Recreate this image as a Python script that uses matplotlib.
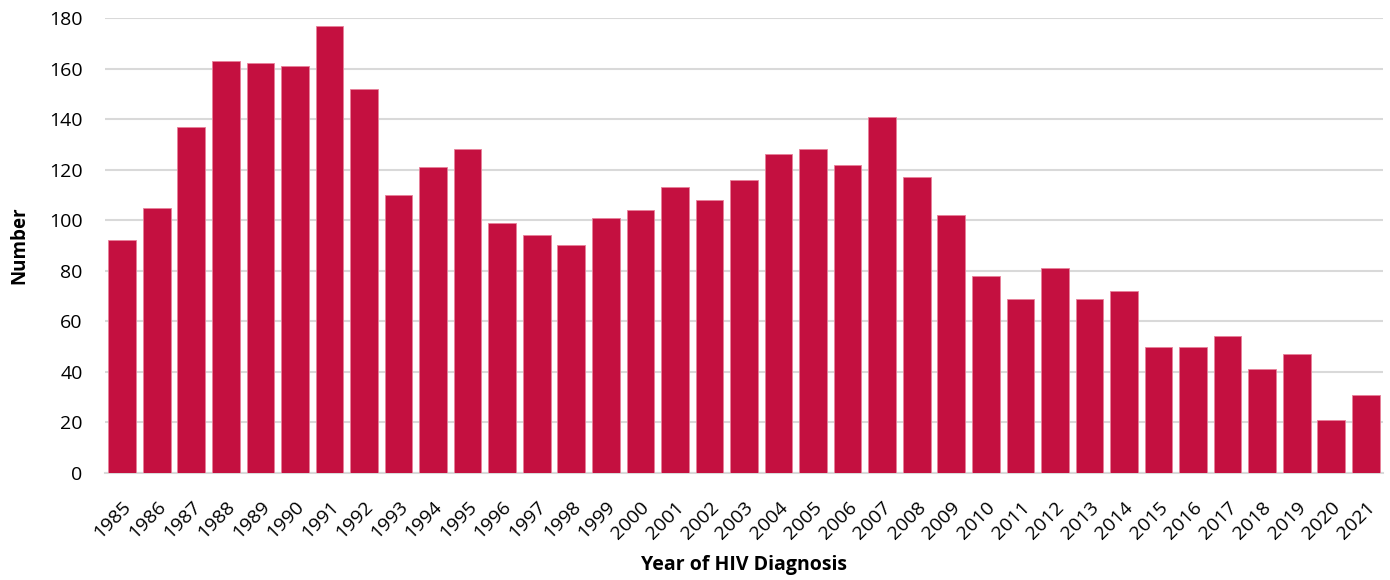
import matplotlib
matplotlib.use("Agg")
import matplotlib.pyplot as plt

plt.rcParams['font.family'] = ['Open Sans', 'DejaVu Sans']

years = [str(y) for y in range(1985, 2022)]
counts = [92, 105, 137, 163, 162, 161, 177, 152, 110, 121, 128, 99, 94, 90, 101,
          104, 113, 108, 116, 126, 128, 122, 141, 117, 102, 78, 69, 81, 69, 72,
          50, 50, 54, 41, 47, 21, 31]
y_ticks = list(range(0, 181, 20))

bar_color = '#C41040'
grid_color = '#D9D9D9'

fig = plt.figure(figsize=(13.9, 5.8), dpi=100)
ax = fig.add_axes([0.0755, 0.1845, 0.9195, 0.7845])

x = range(len(years))
ax.bar(x, counts, width=0.8, color=bar_color, edgecolor='#E8809A', linewidth=0.6, zorder=3)

ax.set_xlim(-0.5, len(years) - 0.5)
ax.set_ylim(0, 180)
ax.set_yticks(y_ticks)
ax.set_xticks(list(x))
ax.set_xticklabels(years, rotation=45, ha='right', va='top', rotation_mode='anchor')

ax.tick_params(axis='both', length=0, labelsize=14, colors='black')
ax.tick_params(axis='x', pad=18)
ax.tick_params(axis='y', pad=16)
ax.yaxis.grid(True, color=grid_color, linewidth=1.5, zorder=0)
ax.set_axisbelow(True)

for side in ['top', 'right', 'left']:
    ax.spines[side].set_visible(False)
ax.spines['bottom'].set_color(grid_color)
ax.spines['bottom'].set_linewidth(1.5)

ax.set_ylabel('Number', fontsize=13.5, fontweight='bold', labelpad=14)
ax.set_xlabel('Year of HIV Diagnosis', fontsize=14, fontweight='bold', labelpad=9)

fig.savefig('out.png', dpi=100)
